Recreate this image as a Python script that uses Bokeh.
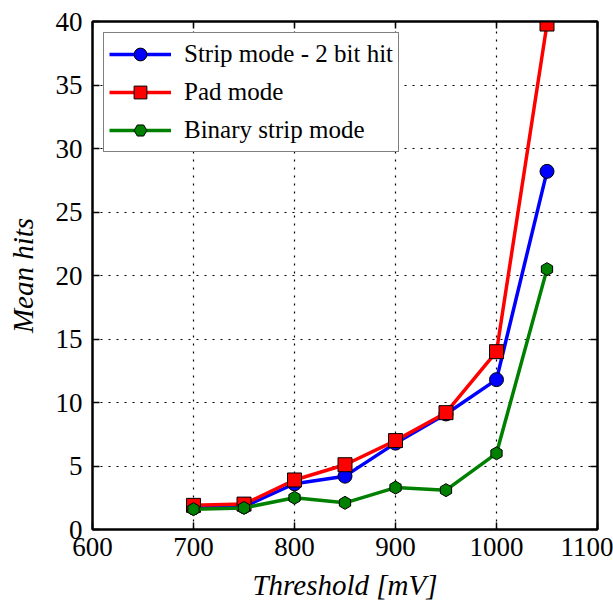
from bokeh.plotting import figure
from bokeh.models import (Range1d, LinearAxis, SingleIntervalTicker, Legend, LegendItem,
                          CustomJSTickFormatter)
from bokeh.embed import file_html
from bokeh.resources import INLINE

thresholds = [700, 750, 800, 850, 900, 950, 1000, 1050]
strip_2bit = [1.7, 1.8, 3.6, 4.2, 6.8, 9.1, 11.8, 28.2]
pad_mode = [1.9, 2.0, 3.9, 5.1, 7.0, 9.2, 14.0, 39.8]
binary_strip = [1.6, 1.7, 2.5, 2.1, 3.3, 3.1, 6.0, 20.5]

FONT = "Liberation Serif"

p = figure(frame_width=505, frame_height=508, output_backend="svg", toolbar_location=None,
           x_range=Range1d(600, 1100), y_range=Range1d(0, 40),
           min_border_left=92, min_border_right=16, min_border_top=21, min_border_bottom=74)
p.background_fill_color = "white"
p.border_fill_color = "white"
p.outline_line_color = "black"
p.outline_line_width = 2

for ax in (p.xaxis[0], p.yaxis[0]):
    ax.major_tick_in = 7
    ax.major_tick_out = 0
    ax.minor_tick_in = 0
    ax.minor_tick_out = 0
    ax.axis_line_color = "black"
    ax.axis_line_width = 2
    ax.major_tick_line_width = 1.5
    ax.major_label_text_font = FONT
    ax.major_label_text_font_size = "27px"
    ax.major_label_text_color = "black"
    ax.axis_label_text_font = FONT
    ax.axis_label_text_font_style = "italic"
    ax.axis_label_text_font_size = "29px"
    ax.axis_label_text_color = "black"

p.xaxis[0].ticker = SingleIntervalTicker(interval=100)
p.yaxis[0].ticker = SingleIntervalTicker(interval=5)
p.xaxis[0].axis_label = "Threshold [mV]"
p.yaxis[0].axis_label = "Mean hits"
p.xaxis[0].major_label_standoff = 8
p.yaxis[0].major_label_standoff = 10
p.xaxis[0].axis_label_standoff = 10
p.yaxis[0].axis_label_standoff = 14

blank = CustomJSTickFormatter(code="return '';")
top = LinearAxis(ticker=SingleIntervalTicker(interval=100), formatter=blank,
                 major_tick_in=7, major_tick_out=0, minor_tick_in=0, minor_tick_out=0,
                 axis_line_width=2, major_tick_line_width=1.5, major_label_standoff=0)
right = LinearAxis(ticker=SingleIntervalTicker(interval=5), formatter=blank,
                   major_tick_in=7, major_tick_out=0, minor_tick_in=0, minor_tick_out=0,
                   axis_line_width=2, major_tick_line_width=1.5, major_label_standoff=0)
p.add_layout(top, "above")
p.add_layout(right, "right")

p.xgrid.ticker = SingleIntervalTicker(interval=100)
p.ygrid.ticker = SingleIntervalTicker(interval=5)
for g in (p.xgrid[0], p.ygrid[0]):
    g.grid_line_color = "black"
    g.grid_line_dash = "2 6"
    g.grid_line_width = 1.2

l1 = p.line(thresholds, strip_2bit, line_color="blue", line_width=3.5)
m1 = p.scatter(thresholds, strip_2bit, marker="circle", size=14, fill_color="blue",
               line_color="black", line_width=1)
l2 = p.line(thresholds, pad_mode, line_color="red", line_width=3.5)
m2 = p.scatter(thresholds, pad_mode, marker="square", size=14, fill_color="red",
               line_color="black", line_width=1)
l3 = p.line(thresholds, binary_strip, line_color="green", line_width=3.5)
m3 = p.scatter(thresholds, binary_strip, marker="hex", size=13, fill_color="green",
               line_color="black", line_width=1, angle=0.5236)

legend = Legend(items=[
    LegendItem(label="Strip mode - 2 bit hit", renderers=[l1, m1]),
    LegendItem(label="Pad mode", renderers=[l2, m2]),
    LegendItem(label="Binary strip mode", renderers=[l3, m3]),
], location="top_left")
legend.label_text_font = FONT
legend.label_text_font_size = "25px"
legend.label_text_color = "black"
legend.border_line_color = "black"
legend.border_line_width = 1.5
legend.glyph_width = 62
legend.glyph_height = 32
legend.label_height = 32
legend.label_standoff = 13
legend.spacing = 6
legend.padding = 5
legend.margin = 11
legend.background_fill_alpha = 1
p.add_layout(legend)

open("out.html", "w").write(file_html(p, INLINE))
